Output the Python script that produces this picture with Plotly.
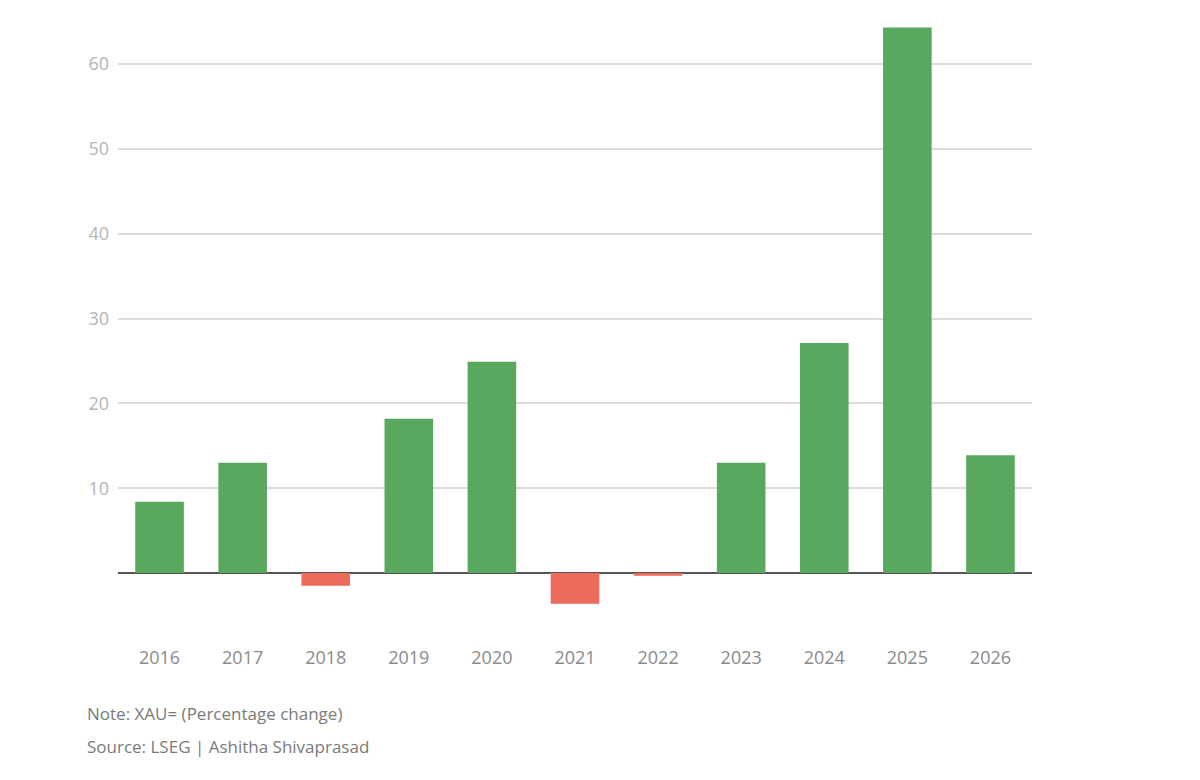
import plotly.graph_objects as go

years = ["2016", "2017", "2018", "2019", "2020", "2021", "2022", "2023", "2024", "2025", "2026"]
pct_change = [8.4, 13.0, -1.5, 18.2, 24.9, -3.6, -0.3, 13.0, 27.1, 64.3, 13.9]
y_ticks = [10, 20, 30, 40, 50, 60]

GREEN = "#5aa75e"
RED = "#ec6b5d"
colors = [GREEN if v >= 0 else RED for v in pct_change]

fig = go.Figure()
fig.add_trace(go.Bar(
    x=years, y=pct_change,
    marker=dict(color=colors, line=dict(width=0)),
    width=0.585,
    hoverinfo="x+y",
))

W, H = 1200, 780
OFF = 8  # page offset of the figure
left_px, right_px = 118 - OFF, 1032 - OFF
top_px, bot_px = 13 - OFF, 641 - OFF
plot_w = right_px - left_px
plot_h = bot_px - top_px


def note_y(page_y):
    return -((page_y - OFF) - bot_px) / plot_h


fig.update_layout(
    width=W, height=H,
    margin=dict(l=left_px, r=W - right_px, t=top_px, b=H - bot_px),
    paper_bgcolor="white", plot_bgcolor="white",
    font=dict(family="Open Sans, Lato, sans-serif", color="#888"),
    showlegend=False,
    xaxis=dict(
        type="category",
        showgrid=False, showline=False, zeroline=False,
        tickfont=dict(size=18, color="#8a8a8a"),
        ticks="", ticklabelstandoff=4,
    ),
    yaxis=dict(
        range=[-8, 66],
        tickvals=y_ticks,
        ticktext=[str(v) for v in y_ticks],
        showgrid=True, gridcolor="#dcdcdc", gridwidth=1.5,
        zeroline=True, zerolinecolor="#555555", zerolinewidth=1.5,
        showline=False, ticks="",
        tickfont=dict(size=18, color="#b5b5b5"),
        ticklabelstandoff=8,
    ),
    annotations=[
        dict(text="Note: XAU= (Percentage change)", xref="paper", yref="paper",
             x=-left_px / plot_w, y=note_y(713), xanchor="left", yanchor="middle",
             xshift=77, showarrow=False, font=dict(size=17, color="#7a7a7a")),
        dict(text="Source: LSEG | Ashitha Shivaprasad", xref="paper", yref="paper",
             x=-left_px / plot_w, y=note_y(746), xanchor="left", yanchor="middle",
             xshift=77, showarrow=False, font=dict(size=17, color="#7a7a7a")),
    ],
)

fig.write_html("out.html")
